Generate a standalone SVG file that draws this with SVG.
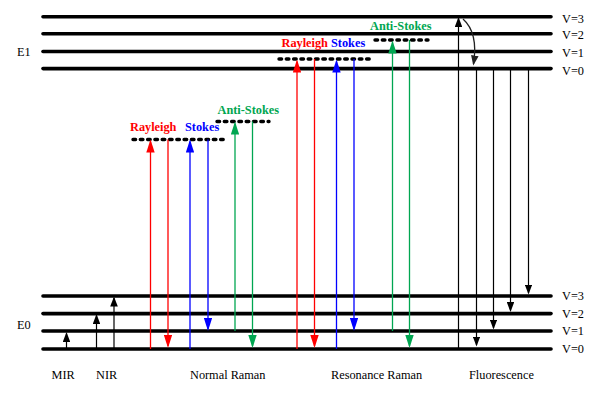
<svg xmlns="http://www.w3.org/2000/svg" width="602" height="395" viewBox="0 0 602 395">
<style>
text{font-family:"Liberation Serif","Times New Roman",serif;font-size:12.3px;fill:#000}
.b{font-weight:bold}
.lvl{stroke:#000;stroke-width:3.6;stroke-linecap:round}
.virt{stroke:#000;stroke-width:3.4;stroke-linecap:round;stroke-dasharray:2.6 4.7}
.r{stroke:#ff0000;stroke-width:1.3;marker-end:url(#hr)}
.bl{stroke:#0000ff;stroke-width:1.3;marker-end:url(#hb)}
.g{stroke:#00a651;stroke-width:1.3;marker-end:url(#hg)}
.k{stroke:#000;stroke-width:1.2;marker-end:url(#hk)}
</style>
<defs>
<marker id="hr" viewBox="0 0 13 8.4" refX="11" refY="4.2" markerWidth="13" markerHeight="8.4" markerUnits="userSpaceOnUse" orient="auto"><path d="M0,0 L13,4.2 L0,8.4 z" fill="#ff0000"/></marker>
<marker id="hb" viewBox="0 0 13 8.4" refX="11" refY="4.2" markerWidth="13" markerHeight="8.4" markerUnits="userSpaceOnUse" orient="auto"><path d="M0,0 L13,4.2 L0,8.4 z" fill="#0000ff"/></marker>
<marker id="hg" viewBox="0 0 13 8.4" refX="11" refY="4.2" markerWidth="13" markerHeight="8.4" markerUnits="userSpaceOnUse" orient="auto"><path d="M0,0 L13,4.2 L0,8.4 z" fill="#00a651"/></marker>
<marker id="hk" viewBox="0 0 10 7.6" refX="8.5" refY="3.8" markerWidth="10" markerHeight="7.6" markerUnits="userSpaceOnUse" orient="auto"><path d="M0,0 L10,3.8 L0,7.6 z" fill="#000"/></marker>
<marker id="hc" viewBox="0 0 10 7.6" refX="8.5" refY="3.8" markerWidth="10" markerHeight="7.6" markerUnits="userSpaceOnUse" orient="auto"><path d="M0,0 L10,3.8 L0,7.6 z" fill="#222"/></marker>
</defs>

<g id="E1">
<line class="lvl" x1="43" y1="16.7" x2="551" y2="16.7"/>
<line class="lvl" x1="43" y1="33.8" x2="551" y2="33.8"/>
<line class="lvl" x1="43" y1="51.5" x2="551" y2="51.5"/>
<line class="lvl" x1="43" y1="68.6" x2="551" y2="68.6"/>
<text x="17" y="56">E1</text>
<text x="562" y="23">V=3</text>
<text x="562" y="39">V=2</text>
<text x="562" y="56.7">V=1</text>
<text x="562" y="74.7">V=0</text>
</g>

<g id="E0">
<line class="lvl" x1="43" y1="296" x2="551" y2="296"/>
<line class="lvl" x1="43" y1="313.6" x2="551" y2="313.6"/>
<line class="lvl" x1="43" y1="331" x2="551" y2="331"/>
<line class="lvl" x1="43" y1="349" x2="551" y2="349"/>
<text x="17" y="329">E0</text>
<text x="562" y="299.5">V=3</text>
<text x="562" y="317.5">V=2</text>
<text x="562" y="334.7">V=1</text>
<text x="562" y="353">V=0</text>
</g>

<g id="virtual-levels">
<line class="virt" x1="133" y1="139.5" x2="226" y2="139.5"/>
<line class="virt" x1="217" y1="121.5" x2="269" y2="121.5"/>
<line class="virt" x1="279" y1="59" x2="372" y2="59"/>
<line class="virt" x1="375" y1="40" x2="428" y2="40"/>
</g>

<g id="connectors">
<!-- IR -->
<line class="k" x1="66.5" y1="349" x2="66.5" y2="333.5"/>
<line class="k" x1="96.5" y1="349" x2="96.5" y2="315.5"/>
<line class="k" x1="114" y1="349" x2="114" y2="298"/>
<!-- Normal Raman -->
<line class="r" x1="150.5" y1="349" x2="150.5" y2="141.5"/>
<line class="r" x1="168" y1="139.5" x2="168" y2="346"/>
<line class="bl" x1="190" y1="349" x2="190" y2="141.5"/>
<line class="bl" x1="208" y1="139.5" x2="208" y2="329"/>
<line class="g" x1="235" y1="331" x2="235" y2="123.5"/>
<line class="g" x1="252.5" y1="121.5" x2="252.5" y2="346"/>
<!-- Resonance Raman -->
<line class="r" x1="297" y1="349" x2="297" y2="61.5"/>
<line class="r" x1="314.5" y1="59" x2="314.5" y2="346"/>
<line class="bl" x1="336.5" y1="349" x2="336.5" y2="61.5"/>
<line class="bl" x1="354" y1="59" x2="354" y2="329"/>
<line class="g" x1="392.5" y1="331" x2="392.5" y2="42.5"/>
<line class="g" x1="409.5" y1="40" x2="409.5" y2="346"/>
<!-- Fluorescence -->
<line class="k" x1="458.5" y1="349" x2="458.5" y2="18.5"/>
<path d="M463,19 C472,27 477,42 473.5,64" fill="none" stroke="#222" stroke-width="1.3" marker-end="url(#hc)"/>
<line class="k" x1="476.5" y1="68.6" x2="476.5" y2="345"/>
<line class="k" x1="493.5" y1="68.6" x2="493.5" y2="328"/>
<line class="k" x1="510.5" y1="68.6" x2="510.5" y2="310.5"/>
<line class="k" x1="528.5" y1="68.6" x2="528.5" y2="293"/>
</g>

<g id="labels">
<text class="b" x="130" y="130.5" fill="#ff0000" style="fill:#ff0000">Rayleigh</text>
<text class="b" x="185" y="130.5" style="fill:#0000ff">Stokes</text>
<text class="b" x="217.5" y="114" style="fill:#00a651">Anti-Stokes</text>
<text class="b" x="281.5" y="46.5" style="fill:#ff0000">Rayleigh</text>
<text class="b" x="331" y="46.5" style="fill:#0000ff">Stokes</text>
<text class="b" x="370" y="30" style="fill:#00a651">Anti-Stokes</text>
<text x="51.5" y="378.5">MIR</text>
<text x="96" y="378.5">NIR</text>
<text x="190" y="378.5">Normal Raman</text>
<text x="331" y="378.5">Resonance Raman</text>
<text x="469" y="378.5">Fluorescence</text>
</g>
</svg>
